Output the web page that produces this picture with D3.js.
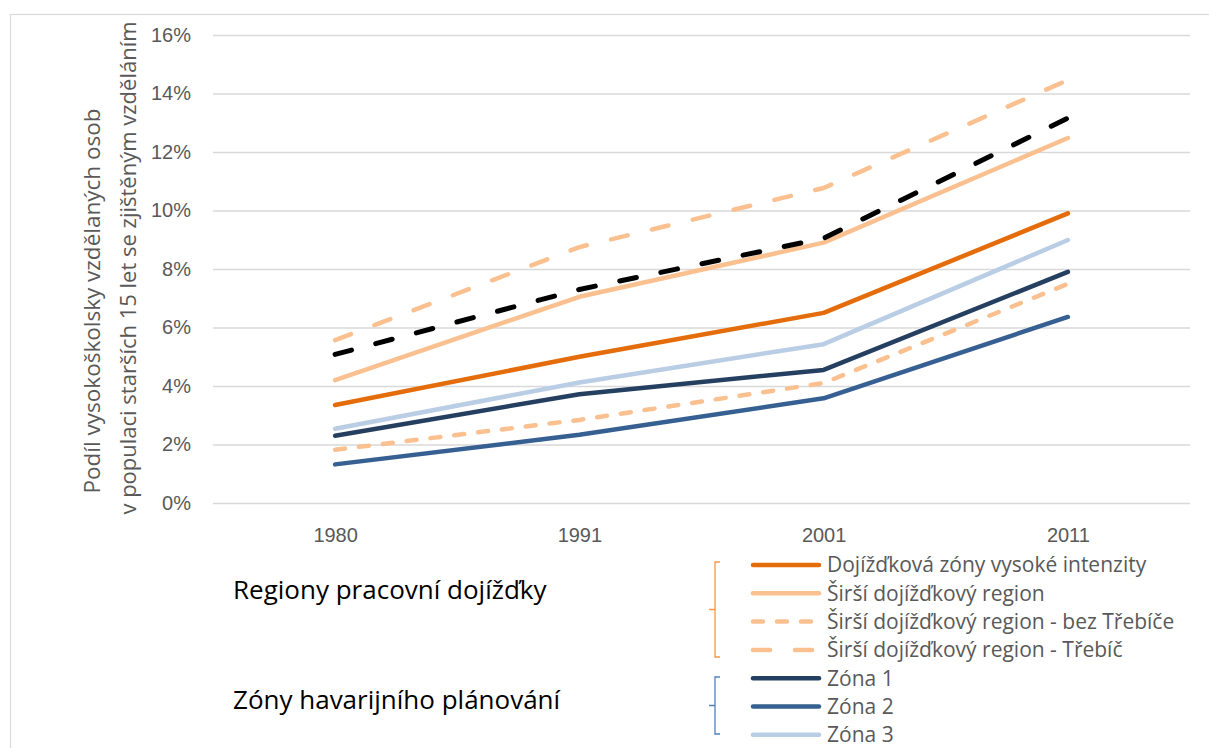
<!DOCTYPE html>
<html>
<head>
<meta charset="utf-8">
<script src="https://cdn.jsdelivr.net/npm/d3@7"></script>
<style>
  body { margin: 0; background: #fff; }
  svg { display: block; font-family: "Open Sans", "Noto Sans", sans-serif; }
</style>
</head>
<body>
<div id="chart"></div>
<script>
const years = ["1980", "1991", "2001", "2011"];
const yTicks = [0, 0.02, 0.04, 0.06, 0.08, 0.10, 0.12, 0.14, 0.16];

// values in %
const dojizdkovaZona = [3.35, 5.0, 6.5, 9.9];
const sirsiRegion = [4.2, 7.05, 8.9, 12.48];
const sirsiBezTrebice = [1.82, 2.84, 4.1, 7.49];
const sirsiTrebic = [5.57, 8.75, 10.77, 14.46];
const zona1 = [2.3, 3.72, 4.55, 7.9];
const zona2 = [1.32, 2.33, 3.58, 6.36];
const zona3 = [2.54, 4.12, 5.43, 8.99];
const celkem = [5.08, 7.3, 9.05, 13.16]; // black dashed, not in legend

const seriesNames = [
  "Dojížďková zóny vysoké intenzity",
  "Širší dojížďkový region",
  "Širší dojížďkový region - bez Třebíče",
  "Širší dojížďkový region - Třebíč",
  "Zóna 1",
  "Zóna 2",
  "Zóna 3"
];
const groupLabels = ["Regiony pracovní dojížďky", "Zóny havarijního plánování"];
const yTitle = ["Podíl vysokoškolsky vzdělaných osob", "v populaci starších 15 let se zjištěným vzděláním"];

const orange = "#E46C0A";
const peach = "#FAC090";
const navy = "#243F60";
const blue = "#376092";
const lightBlue = "#B9CDE5";
const textGray = "#595959";
const gridGray = "#D9D9D9";

const series = [
  { name: seriesNames[0], values: dojizdkovaZona, color: orange, dash: null },
  { name: seriesNames[1], values: sirsiRegion, color: peach, dash: null },
  { name: seriesNames[2], values: sirsiBezTrebice, color: peach, dash: "10,14" },
  { name: seriesNames[3], values: sirsiTrebic, color: peach, dash: "17,25" },
  { name: seriesNames[4], values: zona1, color: navy, dash: null },
  { name: seriesNames[5], values: zona2, color: blue, dash: null },
  { name: seriesNames[6], values: zona3, color: lightBlue, dash: null },
  { name: null, values: celkem, color: "#000", dash: "17,25" }
];

const W = 1209, H = 748;
const svg = d3.select("#chart").append("svg")
  .attr("width", W)
  .attr("height", H);

// chart frame
svg.append("rect")
  .attr("x", 10.5).attr("y", 14.5)
  .attr("width", W + 20).attr("height", H + 20)
  .attr("fill", "none")
  .attr("stroke", gridGray)
  .attr("stroke-width", 1.2);

const x = d3.scalePoint()
  .domain(years)
  .range([213, 1190])
  .padding(0.5);

const y = d3.scaleLinear()
  .domain([0, 0.16])
  .range([503, 35]);

// gridlines
const grid = svg.append("g")
  .attr("transform", "translate(213,0)")
  .call(d3.axisLeft(y).tickValues(yTicks).tickSize(-977).tickFormat(""));
grid.select(".domain").remove();
grid.selectAll(".tick line")
  .attr("stroke", gridGray)
  .attr("stroke-width", 1.5);

// y axis labels
const yAxis = svg.append("g")
  .attr("transform", "translate(213,0)")
  .call(d3.axisLeft(y).tickValues(yTicks).tickSize(0).tickPadding(22).tickFormat(d3.format(".0%")));
yAxis.select(".domain").remove();
yAxis.selectAll("text")
  .attr("fill", textGray)
  .style("font-size", "20px");

// x axis labels
const xAxis = svg.append("g")
  .attr("transform", "translate(0,503)")
  .call(d3.axisBottom(x).tickSize(0).tickPadding(25));
xAxis.select(".domain").remove();
xAxis.selectAll("text")
  .attr("fill", textGray)
  .style("font-size", "20px");

// y axis title
svg.append("text")
  .attr("transform", "translate(100,301) rotate(-90)")
  .attr("text-anchor", "middle")
  .attr("fill", textGray)
  .style("font-size", "22.5px")
  .text(yTitle[0]);
svg.append("text")
  .attr("transform", "translate(136,268) rotate(-90)")
  .attr("text-anchor", "middle")
  .attr("fill", textGray)
  .style("font-size", "22px")
  .text(yTitle[1]);

// lines
const line = d3.line()
  .x((d, i) => x(years[i]))
  .y(d => y(d / 100));

svg.append("g")
  .selectAll("path")
  .data(series)
  .join("path")
  .attr("d", d => line(d.values))
  .attr("fill", "none")
  .attr("stroke", d => d.color)
  .attr("stroke-width", d => d.name ? 4.5 : 5)
  .attr("stroke-linecap", "round")
  .attr("stroke-linejoin", "round")
  .attr("stroke-dasharray", d => d.dash);

// legend
const legendTop = 565;
const rowH = 28.3;
const legend = svg.append("g");
const items = legend.selectAll("g")
  .data(series.filter(d => d.name))
  .join("g")
  .attr("transform", (d, i) => `translate(0,${legendTop + i * rowH})`);
items.append("line")
  .attr("x1", 753).attr("x2", 819)
  .attr("stroke", d => d.color)
  .attr("stroke-width", 4.5)
  .attr("stroke-linecap", "round")
  .attr("stroke-dasharray", d => d.dash);
items.append("text")
  .attr("x", 827)
  .attr("dy", "0.35em")
  .attr("fill", textGray)
  .style("font-size", "21px")
  .text(d => d.name);

// group brackets
const bracket = (top, bottom, color) => {
  const mid = (top + bottom) / 2;
  svg.append("path")
    .attr("d", `M720,${top} H715 V${bottom} H720 M715,${mid} H709`)
    .attr("fill", "none")
    .attr("stroke", color)
    .attr("stroke-width", 1.3);
};
bracket(562, 657, "#F79646");
bracket(677, 734, "#4F81BD");

svg.selectAll(".group-label")
  .data(groupLabels)
  .join("text")
  .attr("class", "group-label")
  .attr("x", 233)
  .attr("y", (d, i) => [590, 700][i])
  .attr("dy", "0.35em")
  .attr("fill", "#000")
  .style("font-size", "26px")
  .text(d => d);
</script>
</body>
</html>
